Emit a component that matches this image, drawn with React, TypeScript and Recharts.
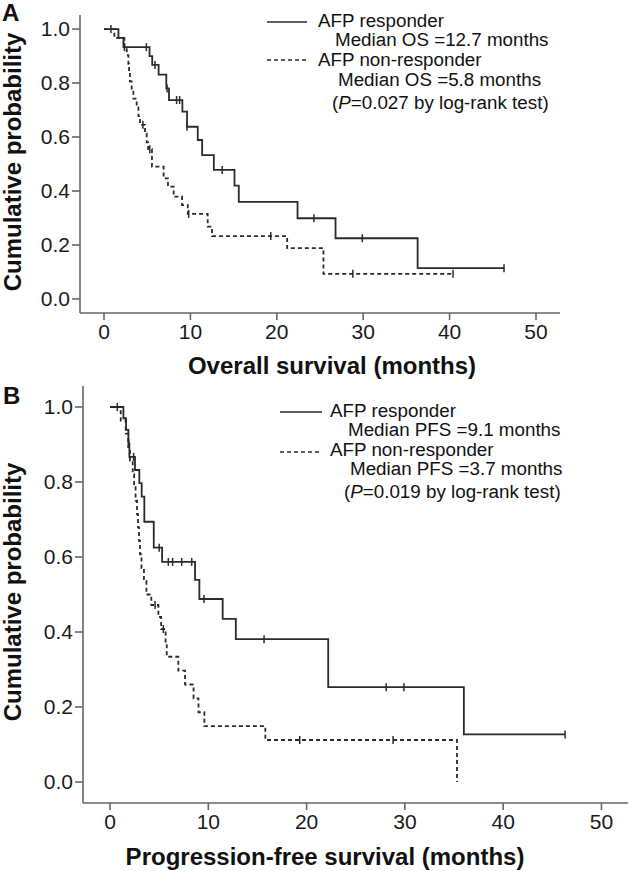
import { ComposedChart, Line, XAxis, YAxis } from 'recharts';

// Kaplan-Meier steps: t = months, p = cumulative probability
const osResponder = [
  { t: 0, p: 1.0 }, { t: 1.67, p: 0.967 }, { t: 2.25, p: 0.933 }, { t: 5.27, p: 0.9 },
  { t: 5.58, p: 0.867 }, { t: 6.32, p: 0.831 }, { t: 7.21, p: 0.78 }, { t: 7.52, p: 0.737 },
  { t: 9.07, p: 0.694 }, { t: 9.61, p: 0.638 }, { t: 10.85, p: 0.589 }, { t: 11.36, p: 0.533 },
  { t: 12.71, p: 0.478 }, { t: 15.1, p: 0.42 }, { t: 15.6, p: 0.36 }, { t: 22.4, p: 0.299 },
  { t: 26.8, p: 0.225 }, { t: 36.3, p: 0.114 }, { t: 46.3, p: 0.114 },
];
const osResponderCensored = [
  { t: 0.8, p: 1.0 }, { t: 2.36, p: 0.933 }, { t: 4.9, p: 0.933 }, { t: 5.9, p: 0.867 },
  { t: 7.3, p: 0.78 }, { t: 8.4, p: 0.737 }, { t: 8.75, p: 0.737 }, { t: 9.61, p: 0.638 },
  { t: 13.68, p: 0.478 }, { t: 24.3, p: 0.299 }, { t: 29.9, p: 0.225 }, { t: 46.3, p: 0.114 },
];
const osNonResponder = [
  { t: 0, p: 1.0 }, { t: 1.2, p: 0.967 }, { t: 2.36, p: 0.935 }, { t: 2.63, p: 0.903 },
  { t: 2.82, p: 0.871 }, { t: 2.9, p: 0.839 }, { t: 3.0, p: 0.806 }, { t: 3.2, p: 0.774 },
  { t: 3.4, p: 0.742 }, { t: 3.78, p: 0.71 }, { t: 3.98, p: 0.677 }, { t: 4.17, p: 0.645 },
  { t: 4.75, p: 0.613 }, { t: 4.94, p: 0.58 }, { t: 5.1, p: 0.555 }, { t: 5.55, p: 0.49 },
  { t: 6.9, p: 0.447 }, { t: 7.4, p: 0.416 }, { t: 8.06, p: 0.379 }, { t: 9.03, p: 0.348 },
  { t: 9.7, p: 0.315 }, { t: 12.0, p: 0.268 }, { t: 12.5, p: 0.233 }, { t: 21.2, p: 0.188 },
  { t: 25.4, p: 0.093 }, { t: 40.4, p: 0.093 },
];
const osNonResponderCensored = [
  { t: 4.5, p: 0.645 }, { t: 5.3, p: 0.555 }, { t: 9.8, p: 0.315 }, { t: 19.3, p: 0.233 },
  { t: 28.8, p: 0.093 }, { t: 40.4, p: 0.093 },
];

const pfsResponder = [
  { t: 0, p: 1.0 }, { t: 1.36, p: 0.97 }, { t: 1.63, p: 0.939 }, { t: 1.87, p: 0.903 },
  { t: 1.97, p: 0.867 }, { t: 2.54, p: 0.832 }, { t: 2.98, p: 0.797 }, { t: 3.22, p: 0.761 },
  { t: 3.49, p: 0.694 }, { t: 4.45, p: 0.625 }, { t: 5.3, p: 0.587 }, { t: 8.65, p: 0.539 },
  { t: 9.09, p: 0.488 }, { t: 11.46, p: 0.435 }, { t: 12.8, p: 0.381 }, { t: 22.2, p: 0.253 },
  { t: 36.0, p: 0.127 }, { t: 46.3, p: 0.127 },
];
const pfsResponderCensored = [
  { t: 0.74, p: 1.0 }, { t: 1.9, p: 0.903 }, { t: 2.4, p: 0.867 }, { t: 5.0, p: 0.625 },
  { t: 5.93, p: 0.587 }, { t: 6.37, p: 0.587 }, { t: 7.29, p: 0.587 }, { t: 8.31, p: 0.587 },
  { t: 9.56, p: 0.488 }, { t: 15.67, p: 0.381 }, { t: 28.1, p: 0.253 }, { t: 29.9, p: 0.253 },
  { t: 46.3, p: 0.127 },
];
const pfsNonResponder = [
  { t: 0, p: 1.0 }, { t: 1.09, p: 0.964 }, { t: 1.6, p: 0.929 }, { t: 1.85, p: 0.893 },
  { t: 2.03, p: 0.857 }, { t: 2.31, p: 0.821 }, { t: 2.45, p: 0.786 }, { t: 2.6, p: 0.75 },
  { t: 2.75, p: 0.714 }, { t: 2.85, p: 0.679 }, { t: 2.95, p: 0.643 }, { t: 3.05, p: 0.607 },
  { t: 3.2, p: 0.571 }, { t: 3.45, p: 0.536 }, { t: 3.7, p: 0.5 }, { t: 4.2, p: 0.472 },
  { t: 4.92, p: 0.44 }, { t: 5.2, p: 0.408 }, { t: 5.65, p: 0.371 }, { t: 5.77, p: 0.334 },
  { t: 6.95, p: 0.297 }, { t: 7.63, p: 0.26 }, { t: 8.5, p: 0.223 }, { t: 9.0, p: 0.186 },
  { t: 9.6, p: 0.149 }, { t: 15.8, p: 0.112 }, { t: 35.3, p: 0.0 },
];
const pfsNonResponderCensored = [
  { t: 4.58, p: 0.472 }, { t: 5.42, p: 0.408 }, { t: 19.3, p: 0.112 }, { t: 28.8, p: 0.112 },
];

const monthTicks = [0, 10, 20, 30, 40, 50];
const probTicks = [0, 0.2, 0.4, 0.6, 0.8, 1.0];

const FONT = '"Liberation Sans", Arial, sans-serif';
const INK = '#2a2a2a';
const AXIS = '#666';

function CensorMark(props: any) {
  const { cx, cy } = props;
  if (cx == null || cy == null) return null;
  return <line x1={cx} x2={cx} y1={cy - 4} y2={cy + 4} stroke={INK} strokeWidth={1.5} />;
}

function KmPanel(props: any) {
  const { width, height, margin, xDomain, yDomain, solid, solidCens, dashed, dashedCens } = props;
  const tickStyle = { fill: '#1a1a1a', fontSize: 21, fontFamily: FONT };
  return (
    <ComposedChart width={width} height={height} margin={margin}>
      <XAxis
        type="number"
        dataKey="t"
        domain={xDomain}
        ticks={monthTicks}
        allowDataOverflow
        height={margin.xh}
        tick={tickStyle}
        tickSize={7}
        tickMargin={4}
        axisLine={{ stroke: AXIS, strokeWidth: 1.6 }}
        tickLine={{ stroke: AXIS, strokeWidth: 1.6 }}
      />
      <YAxis
        type="number"
        domain={yDomain}
        ticks={probTicks}
        allowDataOverflow
        width={margin.yw}
        tick={tickStyle}
        tickSize={8}
        tickMargin={2}
        tickFormatter={(v: number) => v.toFixed(1)}
        axisLine={{ stroke: AXIS, strokeWidth: 1.6 }}
        tickLine={{ stroke: AXIS, strokeWidth: 1.6 }}
      />
      <Line data={solid} dataKey="p" type="stepAfter" stroke={INK} strokeWidth={1.8} dot={false} isAnimationActive={false} />
      <Line data={dashed} dataKey="p" type="stepAfter" stroke={INK} strokeWidth={1.8} strokeDasharray="4 3" dot={false} isAnimationActive={false} />
      <Line data={solidCens} dataKey="p" stroke="none" dot={<CensorMark />} isAnimationActive={false} />
      <Line data={dashedCens} dataKey="p" stroke="none" dot={<CensorMark />} isAnimationActive={false} />
    </ComposedChart>
  );
}

const textBase: any = { position: 'absolute', fontFamily: FONT, color: '#111', whiteSpace: 'nowrap' };

// y is the text baseline
function Txt({ x, y, size = 18.8, bold = false, children }: any) {
  return (
    <div style={{ ...textBase, left: x, top: y - size * 0.85, fontSize: size, lineHeight: 1, fontWeight: bold ? 700 : 400 }}>
      {children}
    </div>
  );
}

function Sample({ x, y, w, dashed }: any) {
  return (
    <svg style={{ position: 'absolute', left: x, top: y - 2 }} width={w} height={4}>
      <line x1={0} x2={w} y1={2} y2={2} stroke={INK} strokeWidth={1.5} strokeDasharray={dashed ? '4 3' : undefined} />
    </svg>
  );
}

function YTitle({ cy }: any) {
  return (
    <div
      style={{
        ...textBase,
        left: 13,
        top: cy,
        fontSize: 24,
        fontWeight: 700,
        transform: 'translate(-50%, -50%) rotate(-90deg)',
      }}
    >
      Cumulative probability
    </div>
  );
}

function XTitle({ cx, cy, children }: any) {
  return (
    <div style={{ ...textBase, left: cx, top: cy, fontSize: 24, fontWeight: 700, transform: 'translate(-50%, -50%)' }}>
      {children}
    </div>
  );
}

export default function App() {
  return (
    <div style={{ position: 'absolute', left: 0, top: 0, width: 630, height: 871, background: '#fff', overflow: 'hidden' }}>
      <div style={{ position: 'absolute', left: 0, top: 0 }}>
        <KmPanel
          width={630}
          height={380}
          margin={{ top: 15, right: 70, bottom: 0, left: 0, xh: 67, yw: 80 }}
          xDomain={[-2.78, 52.78]}
          yDomain={[-0.052, 1.052]}
          solid={osResponder}
          solidCens={osResponderCensored}
          dashed={osNonResponder}
          dashedCens={osNonResponderCensored}
        />
      </div>
      <div style={{ position: 'absolute', left: 0, top: 380 }}>
        <KmPanel
          width={630}
          height={491}
          margin={{ top: 6, right: 2, bottom: 0, left: 0, xh: 68, yw: 83 }}
          xDomain={[-2.75, 52.7]}
          yDomain={[-0.056, 1.056]}
          solid={pfsResponder}
          solidCens={pfsResponderCensored}
          dashed={pfsNonResponder}
          dashedCens={pfsNonResponderCensored}
        />
      </div>

      <Txt x={2} y={21} size={24} bold>A</Txt>
      <Txt x={3} y={404} size={24} bold>B</Txt>

      <Sample x={267} y={22} w={40} />
      <Txt x={318} y={28}>AFP responder</Txt>
      <Txt x={335} y={47}>Median OS =12.7 months</Txt>
      <Sample x={267} y={60} w={40} dashed />
      <Txt x={318} y={67}>AFP non-responder</Txt>
      <Txt x={338} y={87}>Median OS =5.8 months</Txt>
      <Txt x={332} y={110}>(<i>P</i>=0.027 by log-rank test)</Txt>

      <Sample x={280} y={412} w={42} />
      <Txt x={330} y={418}>AFP responder</Txt>
      <Txt x={348} y={437}>Median PFS =9.1 months</Txt>
      <Sample x={280} y={452} w={42} dashed />
      <Txt x={330} y={457}>AFP non-responder</Txt>
      <Txt x={350} y={476}>Median PFS =3.7 months</Txt>
      <Txt x={344} y={499}>(<i>P</i>=0.019 by log-rank test)</Txt>

      <YTitle cy={162} />
      <YTitle cy={592} />
      <XTitle cx={332} cy={366}>Overall survival (months)</XTitle>
      <XTitle cx={325} cy={857}>Progression-free survival (months)</XTitle>
    </div>
  );
}
